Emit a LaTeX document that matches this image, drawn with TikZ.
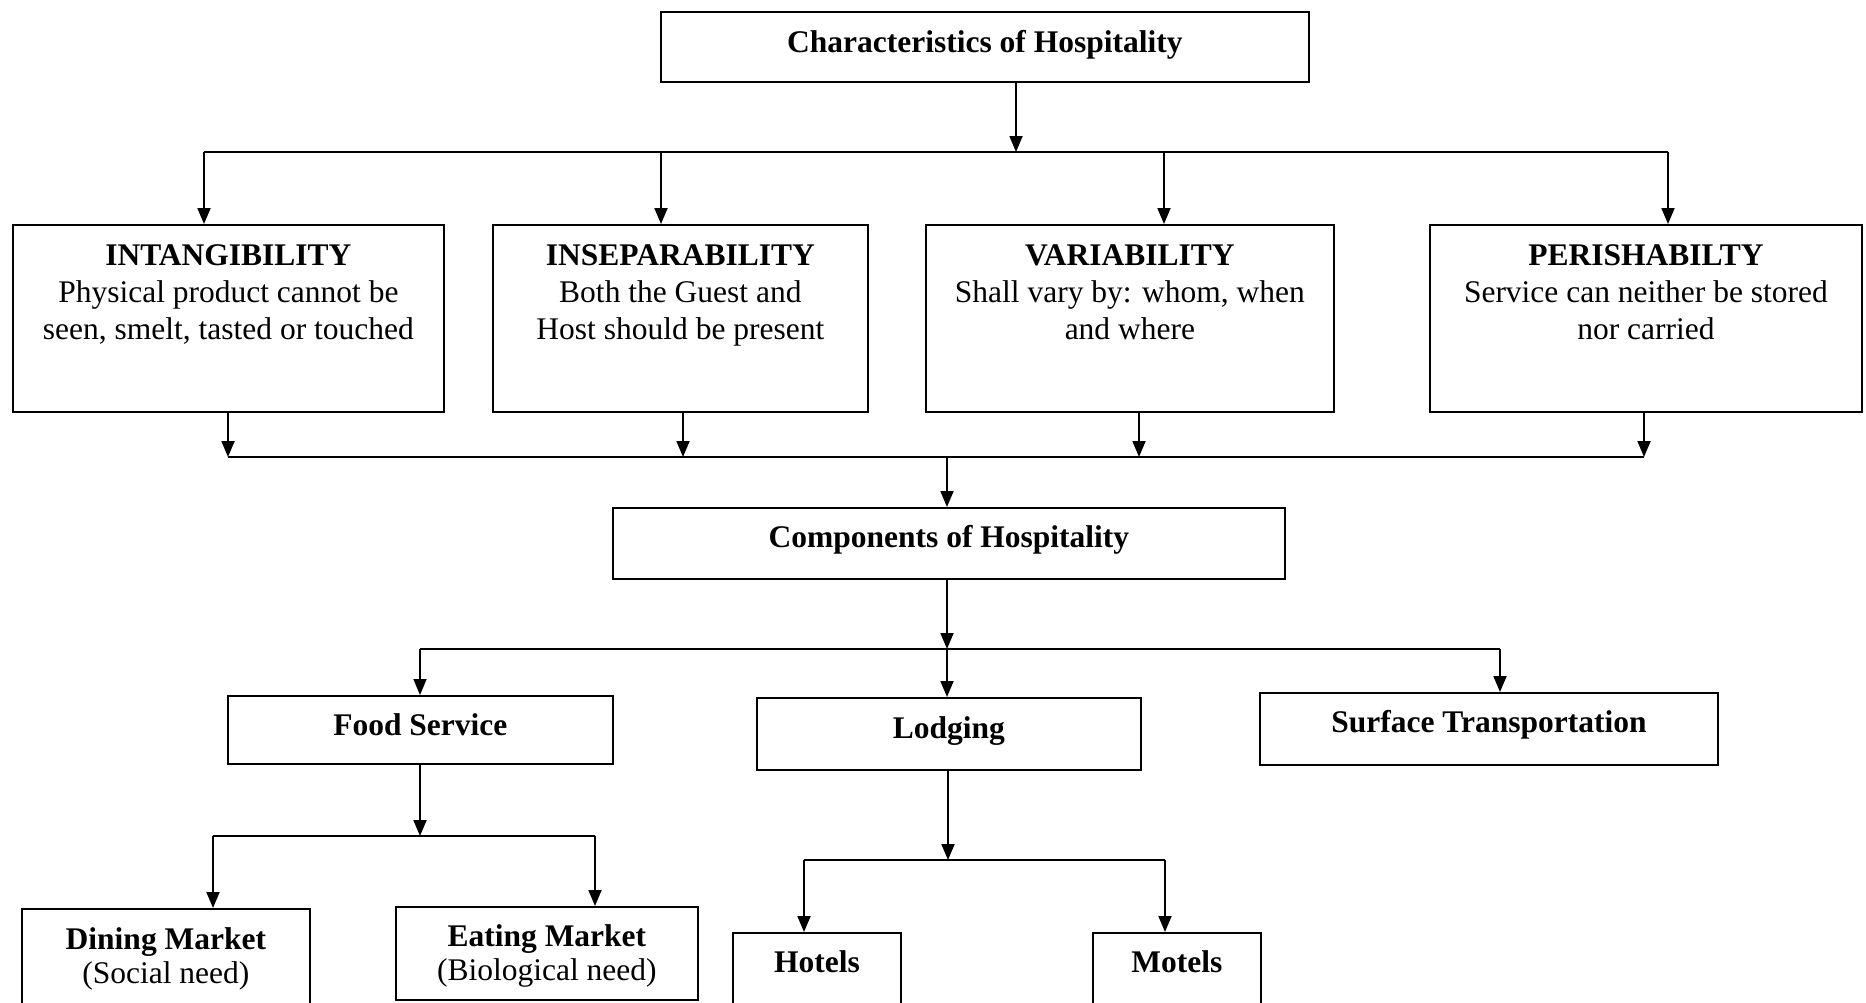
\documentclass[tikz,border=0pt]{standalone}
\usepackage{fontspec}
\setmainfont{Liberation Serif}
\usetikzlibrary{arrows.meta}

% box text: width, height, gap above first baseline, lines
\newcommand{\celltext}[4]{\parbox[t][#2][t]{#1}{\centering\rule{0pt}{#3}#4}}

\begin{document}
\begin{tikzpicture}
  [x=1pt,y=-1pt,
   every node/.style={draw=black,line width=1.8pt,inner sep=0pt,anchor=north west,
     font=\fontsize{31.5pt}{37pt}\selectfont},
   arr/.style={line width=1.8pt,-{Triangle[length=16pt,width=13pt]}},
   bar/.style={line width=1.8pt}]
  \useasboundingbox (0,0) rectangle (1866,1002);
  \clip (0,0) rectangle (1866,1002);

  % Characteristics
  \node (c0) at (660,11) {\celltext{648pt}{70pt}{41pt}{\textbf{Characteristics of Hospitality}}};
  \node (c1) at (12,224) {\celltext{431pt}{187pt}{41pt}{\textbf{INTANGIBILITY}\\Physical product cannot be\\seen, smelt, tasted or touched}};
  \node (c2) at (492,224) {\celltext{375pt}{187pt}{41pt}{\textbf{INSEPARABILITY}\\Both the Guest and\\Host should be present}};
  \node (c3) at (925,224) {\celltext{408pt}{187pt}{41pt}{\textbf{VARIABILITY}\\Shall vary by: whom, when\\and where}};
  \node (c4) at (1429,224) {\celltext{432pt}{187pt}{41pt}{\textbf{PERISHABILTY}\\Service can neither be stored\\nor carried}};

  % Components
  \node (k0) at (612,507) {\celltext{672pt}{71pt}{40pt}{\textbf{Components of Hospitality}}};
  \node (k1) at (227,695) {\celltext{385pt}{68pt}{40pt}{\textbf{Food Service}}};
  \node (k2) at (756,697) {\celltext{384pt}{72pt}{41pt}{\textbf{Lodging}}};
  \node (k3) at (1259,692) {\celltext{458pt}{72pt}{40pt}{\textbf{Surface Transportation}}};

  % Food service and lodging
  \node (f1) at (21,908) {\celltext{288pt}{130pt}{41pt}{\textbf{Dining Market}\\[-3pt](Social need)}};
  \node (f2) at (395,906) {\celltext{302pt}{93pt}{40pt}{\textbf{Eating Market}\\[-3pt](Biological need)}};
  \node (l1) at (732,932) {\celltext{168pt}{110pt}{40pt}{\textbf{Hotels}}};
  \node (l2) at (1092,932) {\celltext{168pt}{110pt}{40pt}{\textbf{Motels}}};

  % Junctions
  \coordinate (a0) at (1016,152);
  \coordinate (a1) at (204,152);
  \coordinate (a2) at (661,152);
  \coordinate (a3) at (1164,152);
  \coordinate (a4) at (1668,152);
  \coordinate (b0) at (947,457);
  \coordinate (b1) at (228,457);
  \coordinate (b2) at (683,457);
  \coordinate (b3) at (1139,457);
  \coordinate (b4) at (1644,457);
  \coordinate (d0) at (947,649);
  \coordinate (d1) at (420,649);
  \coordinate (d3) at (1500,649);
  \coordinate (e0) at (420,836);
  \coordinate (e1) at (213,836);
  \coordinate (e2) at (595,836);
  \coordinate (g0) at (948,860);
  \coordinate (g1) at (804,860);
  \coordinate (g2) at (1165,860);

  % Characteristics -> four boxes
  \draw[arr] (c0.south -| a0) -- (a0);
  \draw[bar] (a1) -- (a4);
  \draw[arr] (a1) -- (c1.north -| a1);
  \draw[arr] (a2) -- (c2.north -| a2);
  \draw[arr] (a3) -- (c3.north -| a3);
  \draw[arr] (a4) -- (c4.north -| a4);

  % four boxes -> Components
  \draw[arr] (c1.south -| b1) -- (b1);
  \draw[arr] (c2.south -| b2) -- (b2);
  \draw[arr] (c3.south -| b3) -- (b3);
  \draw[arr] (c4.south -| b4) -- (b4);
  \draw[bar] (b1) -- (b4);
  \draw[arr] (b0) -- (k0.north -| b0);

  % Components -> three boxes
  \draw[arr] (k0.south -| d0) -- (d0);
  \draw[bar] (d1) -- (d3);
  \draw[arr] (d1) -- (k1.north -| d1);
  \draw[arr] (d0) -- (k2.north -| d0);
  \draw[arr] (d3) -- (k3.north -| d3);

  % Food Service -> markets
  \draw[arr] (k1.south -| e0) -- (e0);
  \draw[bar] (e1) -- (e2);
  \draw[arr] (e1) -- (f1.north -| e1);
  \draw[arr] (e2) -- (f2.north -| e2);

  % Lodging -> hotels, motels
  \draw[arr] (k2.south -| g0) -- (g0);
  \draw[bar] (g1) -- (g2);
  \draw[arr] (g1) -- (l1.north -| g1);
  \draw[arr] (g2) -- (l2.north -| g2);
\end{tikzpicture}
\end{document}
